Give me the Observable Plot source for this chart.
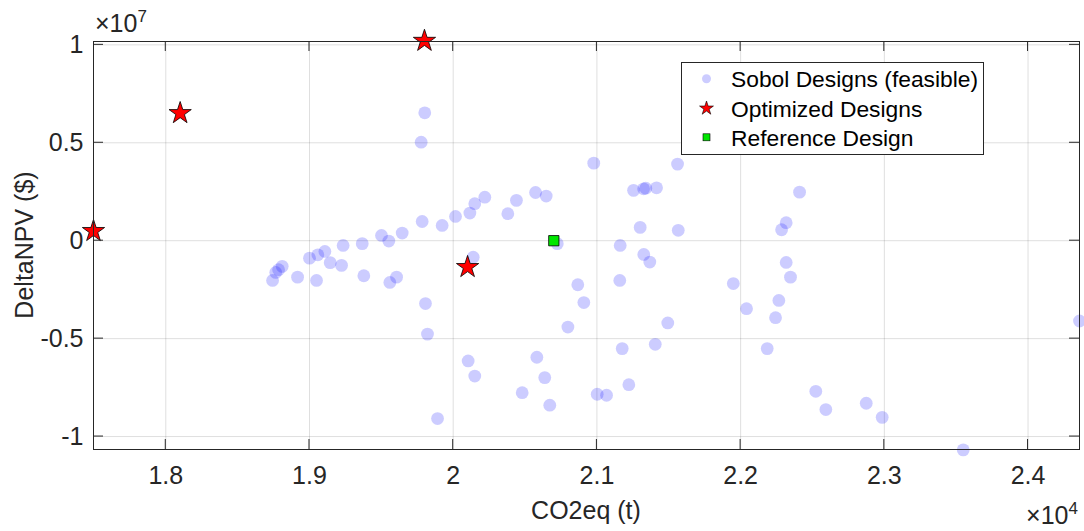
<!DOCTYPE html>
<html><head><meta charset="utf-8">
<script src="https://cdn.jsdelivr.net/npm/d3@7"></script>
<script src="https://cdn.jsdelivr.net/npm/@observablehq/plot@0.6"></script>
<style>
body{margin:0;background:#fff;}
#chart{position:relative;width:1084px;height:531px;}
</style></head><body><div id="chart"></div>
<script>
// Sobol designs (feasible): CO2eq (t), DeltaNPV ($)
const sobolX = [19802,19777,19784,19923,20016,20116,20150,20220,19645,19552,19501,19367,19234,19107,19058,19000,19049,19144,19223,19378,19559,19606,18743,18765,18785,18810,18917,19807,19821,19891,20104,20150,20139,20380,20440,20573,20647,20978,21255,21325,21340,21415,21561,21301,21566,21162,20724,22285,22317,22410,21326,21368,21159,20867,20909,20798,21493,21406,21176,20582,20637,20480,20672,21002,21067,21222,21949,22041,22185,22243,22266,22317,22347,22523,22593,22874,22985,23549,24358];
const sobolY = [6.53e6,5.03e6,0.98e6,0.78e6,1.24e6,1.41e6,1.89e6,2.22e6,0.39e6,-0.02e6,0.27e6,-0.15e6,-0.24e6,-0.55e6,-0.72e6,-0.89e6,-2.03e6,-1.12e6,-1.26e6,-1.79e6,-2.13e6,-1.86e6,-2.03e6,-1.62e6,-1.48e6,-1.31e6,-1.86e6,-3.21e6,-4.77e6,-9.08e6,-6.14e6,-6.91e6,-0.84e6,1.38e6,2.06e6,2.46e6,2.28e6,3.96e6,2.57e6,2.65e6,2.68e6,2.70e6,3.91e6,0.68e6,0.53e6,-0.24e6,-0.15e6,0.56e6,0.92e6,2.48e6,-0.70e6,-1.09e6,-2.03e6,-2.25e6,-3.16e6,-4.41e6,-4.20e6,-5.29e6,-5.51e6,-5.95e6,-6.99e6,-7.76e6,-8.40e6,-7.84e6,-7.89e6,-7.35e6,-2.19e6,-3.47e6,-5.51e6,-3.93e6,-3.05e6,-1.11e6,-1.86e6,-7.69e6,-8.62e6,-8.30e6,-9.02e6,-10.68e6,-4.10e6];
// Optimized designs
const optX = [17497,18100,19800,20100];
const optY = [0.49e6,6.51e6,10.2e6,-1.35e6];
// Reference design
const refX = [20700];
const refY = [0];
// Ticks and labels
const xTicks = [18000,19000,20000,21000,22000,23000,24000];
const yTicks = [-1e7,-5e6,0,5e6,1e7];
const legendLabels = ["Sobol Designs (feasible)","Optimized Designs","Reference Design"];
const xLabel = "CO2eq (t)";
const yLabel = "DeltaNPV ($)";
const xExp = "4", yExp = "7";

const W = 1084, H = 531, mL = 93, mR = 5, mT = 41, mB = 82;
const FONT = "'Liberation Sans', Arial, Helvetica, sans-serif";
const INK = "#262626";

const sobol = sobolX.map((x, i) => ({x, y: sobolY[i]}));
const opt = optX.map((x, i) => ({x, y: optY[i]}));
const ref = refX.map((x, i) => ({x, y: refY[i]}));
const fmt = d => String(+(d).toFixed(3));

const plot = Plot.plot({
  width: W, height: H,
  marginLeft: mL, marginRight: mR, marginTop: mT, marginBottom: mB,
  style: {fontFamily: FONT, fontSize: "25px", color: INK, background: "white", overflow: "visible"},
  x: {domain: [17497, 24358]},
  y: {domain: [-1.0661e7, 1.0171e7]},
  marks: [
    Plot.gridX(xTicks, {stroke: INK, strokeOpacity: 0.15, strokeWidth: 1}),
    Plot.gridY(yTicks, {stroke: INK, strokeOpacity: 0.15, strokeWidth: 1}),
    Plot.dot(sobol, {x: "x", y: "y", r: 6.4, fill: "blue", fillOpacity: 0.2}),
    Plot.dot(ref, {x: "x", y: "y", symbol: "square", r: 5.8, fill: "#00e600", stroke: "black", strokeWidth: 0.8}),
    Plot.dot(opt, {x: "x", y: "y", symbol: "star", r: 7, fill: "red", stroke: "black", strokeWidth: 0.8}),
    Plot.axisX(xTicks, {tickSize: 0, tickPadding: 17, tickFormat: d => fmt(d / 1e4), label: null, fill: INK, fontSize: 25}),
    Plot.axisY(yTicks, {tickSize: 0, tickPadding: 10, tickFormat: d => fmt(d / 1e7), label: null, fill: INK, fontSize: 25}),
    Plot.frame({stroke: INK, strokeWidth: 1})
  ]
});
document.getElementById("chart").appendChild(plot);

const sx = plot.scale("x"), sy = plot.scale("y");
const svg = d3.select(plot);
const x0 = mL, x1 = W - mR, y0 = mT, y1 = H - mB, TL = 10;
const tg = svg.append("g").attr("stroke", INK).attr("stroke-width", 1);
xTicks.forEach(t => {
  const p = sx.apply(t);
  tg.append("line").attr("x1", p).attr("x2", p).attr("y1", y1).attr("y2", y1 - TL);
  tg.append("line").attr("x1", p).attr("x2", p).attr("y1", y0).attr("y2", y0 + TL);
});
yTicks.forEach(t => {
  const p = sy.apply(t);
  tg.append("line").attr("y1", p).attr("y2", p).attr("x1", x0).attr("x2", x0 + TL);
  tg.append("line").attr("y1", p).attr("y2", p).attr("x1", x1).attr("x2", x1 - TL);
});

// axis labels
const lg = svg.append("g").attr("font-family", FONT).attr("fill", INK);
lg.append("text").attr("x", (x0 + x1) / 2).attr("y", 519).attr("text-anchor", "middle").attr("font-size", 25).text(xLabel);
lg.append("text").attr("transform", `translate(33,${(y0 + y1) / 2}) rotate(-90)`).attr("text-anchor", "middle").attr("font-size", 25).text(yLabel);

// exponent labels
const e7 = lg.append("text").attr("x", 95).attr("y", 32).attr("font-size", 25).attr("text-anchor", "start");
e7.append("tspan").text("\u00d710");
e7.append("tspan").attr("font-size", 17).attr("dy", -10).text(yExp);
const e4 = lg.append("text").attr("x", 1078).attr("y", 524).attr("font-size", 25).attr("text-anchor", "end");
e4.append("tspan").text("\u00d710");
e4.append("tspan").attr("font-size", 17).attr("dy", -10).text(xExp);

// legend
const leg = svg.append("g").attr("font-family", FONT).attr("text-anchor", "start");
leg.append("rect").attr("x", 681.5).attr("y", 62.5).attr("width", 302).attr("height", 92)
  .attr("fill", "white").attr("stroke", INK).attr("stroke-width", 1);
const rowY = [78.7, 108.3, 137.3];
const mx = 706.5;
leg.append("circle").attr("cx", mx).attr("cy", rowY[0]).attr("r", 4.5).attr("fill", "blue").attr("fill-opacity", 0.2);
leg.append("path").attr("transform", `translate(${mx},${rowY[1]})`)
  .attr("d", d3.symbol(d3.symbolStar, 60)()).attr("fill", "red").attr("stroke", "black").attr("stroke-width", 0.6);
leg.append("rect").attr("x", mx - 3.5).attr("y", rowY[2] - 3.5).attr("width", 7).attr("height", 7)
  .attr("fill", "#00e600").attr("stroke", "black").attr("stroke-width", 0.6);
legendLabels.forEach((t, i) => {
  leg.append("text").attr("x", 731).attr("y", rowY[i] + 8.2).attr("font-size", 22.8).attr("fill", "black").attr("text-anchor", "start").text(t);
});
</script></body></html>
